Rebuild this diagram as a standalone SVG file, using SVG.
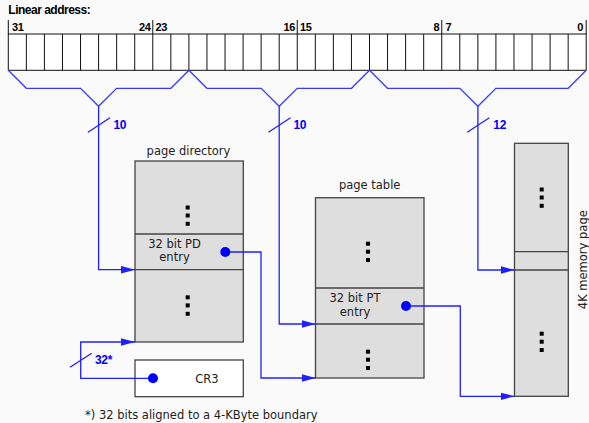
<svg xmlns="http://www.w3.org/2000/svg" width="589" height="423" viewBox="0 0 589 423">
  <style>
    .bg { fill: #fafafa; }
    .cell { fill: #ffffff; stroke: #111111; stroke-width: 1; }
    .sep { stroke: #111111; stroke-width: 1; }
    .brace { fill: none; stroke: #3a3aff; stroke-width: 1.3; }
    .wire { fill: none; stroke: #2020ff; stroke-width: 1.3; }
    .arrow { fill: none; stroke: #2020ff; stroke-width: 1.3; marker-end: url(#head); }
    .tbl { fill: #dedede; stroke: #444444; stroke-width: 1.3; }
    .reg { fill: #ffffff; stroke: #444444; stroke-width: 1.3; }
    .row { stroke: #444444; stroke-width: 1.3; }
    .dot { fill: #0000ff; }
    .ell { fill: #000000; }
    .hdr { font-family: "Liberation Sans", Arial, sans-serif; font-weight: bold; font-size: 12px; letter-spacing: -0.5px; fill: #000; }
    .bit { font-family: "Liberation Sans", Arial, sans-serif; font-weight: bold; font-size: 11px; letter-spacing: -0.4px; fill: #000; }
    .num { font-family: "Liberation Sans", Arial, sans-serif; font-weight: bold; font-size: 12px; letter-spacing: -0.3px; fill: #0000ff; }
    .lbl { font-family: "DejaVu Sans", sans-serif; font-size: 11.5px; fill: #222; }
  </style>
  <defs>
    <marker id="head" markerWidth="14" markerHeight="8" refX="14" refY="4" orient="auto" markerUnits="userSpaceOnUse">
      <path d="M0,0.2 L14,4 L0,7.8 Z" fill="#2020ff"/>
    </marker>
  </defs>

  <rect class="bg" x="0" y="0" width="589" height="423"/>

  <!-- 32-bit linear address register -->
  <g id="linear-address">
    <text class="hdr" x="8.3" y="13.5">Linear address:</text>
    <rect class="cell" x="8.3" y="34" width="577.9" height="36.3"/>
    <g class="sep">
      <path d="M26.36 34V70.3M44.42 34V70.3M62.48 34V70.3M80.54 34V70.3M98.6 34V70.3M116.66 34V70.3M134.72 34V70.3M152.78 34V70.3M170.84 34V70.3M188.9 34V70.3M206.96 34V70.3M225.02 34V70.3M243.08 34V70.3M261.14 34V70.3M279.2 34V70.3M297.26 34V70.3M315.32 34V70.3M333.38 34V70.3M351.44 34V70.3M369.5 34V70.3M387.56 34V70.3M405.62 34V70.3M423.68 34V70.3M441.74 34V70.3M459.8 34V70.3M477.86 34V70.3M495.92 34V70.3M513.98 34V70.3M532.04 34V70.3M550.1 34V70.3M568.16 34V70.3"/>
      <!-- field boundary ticks -->
      <path d="M8.3 20V34M152.78 20V34M297.26 20V34M441.74 20V34M586.2 20V34"/>
    </g>
    <text class="bit" x="12" y="31">31</text>
    <text class="bit" x="150.5" y="31" text-anchor="end">24</text>
    <text class="bit" x="155.5" y="31">23</text>
    <text class="bit" x="295" y="31" text-anchor="end">16</text>
    <text class="bit" x="300" y="31">15</text>
    <text class="bit" x="439.3" y="31" text-anchor="end">8</text>
    <text class="bit" x="445.5" y="31">7</text>
    <text class="bit" x="583" y="31" text-anchor="end">0</text>
  </g>

  <!-- page directory -->
  <g id="page-directory">
    <text class="lbl" x="188.5" y="154.5" text-anchor="middle">page directory</text>
    <rect class="tbl" x="135" y="161" width="108.3" height="181"/>
    <path class="row" d="M135 234H243.3M135 269.7H243.3"/>
    <rect class="ell" x="185.7" y="205.5" width="4" height="4"/>
    <rect class="ell" x="185.7" y="213.5" width="4" height="4"/>
    <rect class="ell" x="185.7" y="221.8" width="4" height="4"/>
    <text class="lbl" x="174.5" y="247.5" text-anchor="middle">32 bit PD</text>
    <text class="lbl" x="174.5" y="261" text-anchor="middle">entry</text>
    <rect class="ell" x="185.7" y="295.3" width="4" height="4"/>
    <rect class="ell" x="185.7" y="303.4" width="4" height="4"/>
    <rect class="ell" x="185.7" y="311.8" width="4" height="4"/>
  </g>

  <!-- CR3 register -->
  <g id="cr3">
    <rect class="reg" x="135" y="360" width="108.3" height="36.7"/>
    <text class="lbl" x="207" y="382.7" text-anchor="middle">CR3</text>
  </g>

  <!-- page table -->
  <g id="page-table">
    <text class="lbl" x="369.7" y="189" text-anchor="middle">page table</text>
    <rect class="tbl" x="315.5" y="197.7" width="108.5" height="180.3"/>
    <path class="row" d="M315.5 288H424M315.5 324H424"/>
    <rect class="ell" x="366" y="241.7" width="4" height="4"/>
    <rect class="ell" x="366" y="249.7" width="4" height="4"/>
    <rect class="ell" x="366" y="258" width="4" height="4"/>
    <text class="lbl" x="355" y="301.5" text-anchor="middle">32 bit PT</text>
    <text class="lbl" x="355" y="315.5" text-anchor="middle">entry</text>
    <rect class="ell" x="366" y="349.7" width="4" height="4"/>
    <rect class="ell" x="366" y="357.7" width="4" height="4"/>
    <rect class="ell" x="366" y="366" width="4" height="4"/>
  </g>

  <!-- 4K memory page -->
  <g id="memory-page">
    <rect class="tbl" x="514.5" y="143.3" width="53.8" height="253"/>
    <path class="row" d="M514.5 251.7H568.3M514.5 270H568.3"/>
    <rect class="ell" x="539.7" y="187.5" width="4" height="4"/>
    <rect class="ell" x="539.7" y="195.5" width="4" height="4"/>
    <rect class="ell" x="539.7" y="203.8" width="4" height="4"/>
    <rect class="ell" x="539.7" y="331.7" width="4" height="4"/>
    <rect class="ell" x="539.7" y="339.7" width="4" height="4"/>
    <rect class="ell" x="539.7" y="348" width="4" height="4"/>
    <text class="lbl" transform="translate(586.5 259.7) rotate(-90)" text-anchor="middle">4K memory page</text>
  </g>

  <!-- connectors -->
  <g id="connectors">
    <!-- field braces under the address -->
    <path class="brace" d="M8.3 70.3L26.3 88.3H80.6L98.6 106.3L116.6 88.3H170.9L188.9 70.3"/>
    <path class="brace" d="M188.9 70.3L206.9 88.3H261.2L279.2 106.3L297.2 88.3H351.5L369.5 70.3"/>
    <path class="brace" d="M369.5 70.3L387.5 88.3H459.9L477.9 106.3L495.9 88.3H568.2L586.2 70.3"/>

    <!-- directory index (bits 31..22) -->
    <path class="arrow" d="M98.6 106.3V269.7H135"/>
    <path class="wire" d="M88 132.3L110 117.7"/>
    <text class="num" x="113.5" y="129">10</text>

    <!-- table index (bits 21..12) -->
    <path class="arrow" d="M279.2 106.3V324H315.5"/>
    <path class="wire" d="M268.5 132.3L290.5 117.7"/>
    <text class="num" x="293.5" y="129">10</text>

    <!-- page offset (bits 11..0) -->
    <path class="arrow" d="M477.9 106.3V270H514.5"/>
    <path class="wire" d="M467.3 132.3L489.3 117.7"/>
    <text class="num" x="493.3" y="129">12</text>

    <!-- PD entry -> page table -->
    <path class="arrow" d="M225.3 252H261V378H315.5"/>
    <circle class="dot" cx="225.3" cy="252" r="5"/>

    <!-- PT entry -> memory page -->
    <path class="arrow" d="M406 306H460.3V396.3H514.5"/>
    <circle class="dot" cx="406" cy="306" r="5"/>

    <!-- CR3 -> page directory base -->
    <path class="arrow" d="M153 378.3H80.7V342H135"/>
    <circle class="dot" cx="153" cy="378.3" r="5"/>
    <path class="wire" d="M70 367.3L91.7 353.3"/>
    <text class="num" x="95" y="364">32*</text>
  </g>

  <text class="lbl" x="85" y="418.5">*) 32 bits aligned to a 4-KByte boundary</text>
</svg>
